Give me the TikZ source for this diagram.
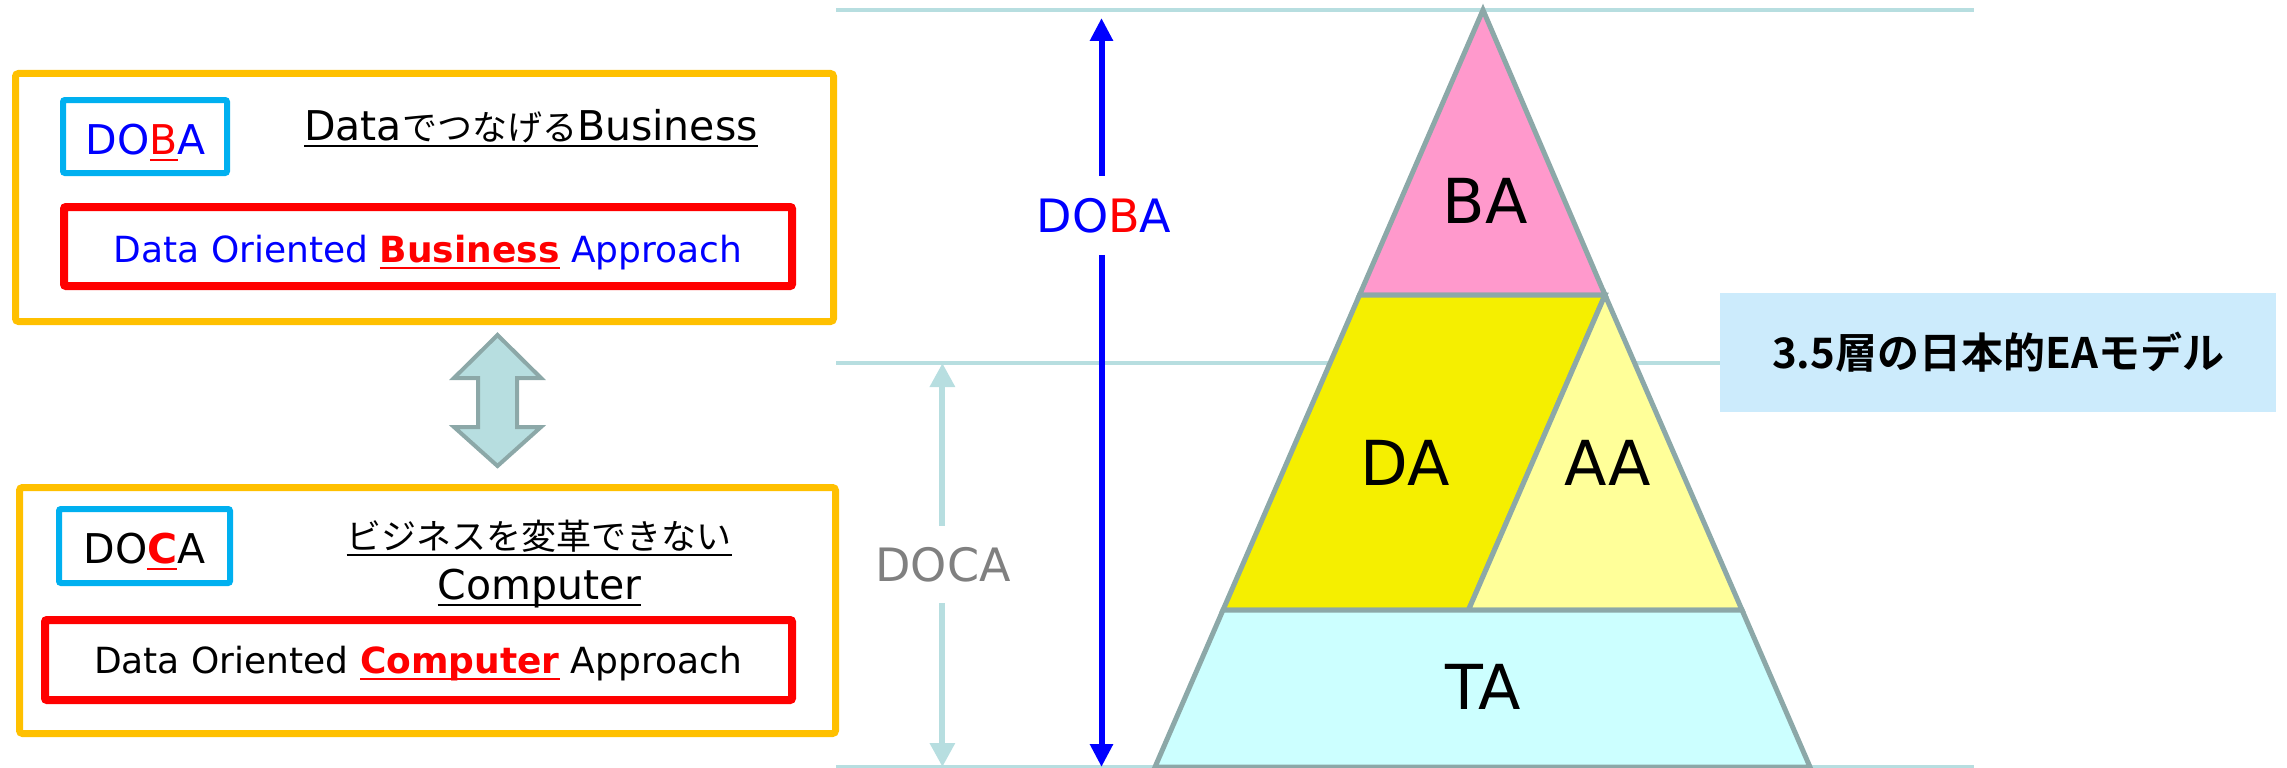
\documentclass[tikz,border=0pt]{standalone}
\usepackage{fontspec}
\setmainfont{DejaVu Sans}
\newfontfamily\jp{Noto Sans CJK JP}[BoldFont={Noto Sans CJK JP Bold}]
\usetikzlibrary{arrows.meta}

\definecolor{gold}{HTML}{FFC000}
\definecolor{skyframe}{HTML}{00B0F0}
\definecolor{guide}{HTML}{B7DEE0}
\definecolor{edge}{HTML}{8CA8A8}
\definecolor{bapink}{HTML}{FF99CC}
\definecolor{dayellow}{HTML}{F5EF00}
\definecolor{aayellow}{HTML}{FFFF99}
\definecolor{tacyan}{HTML}{CCFFFF}
\definecolor{labelbg}{HTML}{CCEBFC}
\definecolor{pureblue}{HTML}{0000FF}
\definecolor{purered}{HTML}{FF0000}
\definecolor{midgrey}{HTML}{808080}

% font size in pt (one pt is one pixel of the picture)
\newcommand\setpx[1]{\fontsize{#1}{#1}\selectfont}
% underline drawn in the current colour, a little below the baseline
\newsavebox\ulbox
\newcommand\ulbar[1]{\sbox\ulbox{#1}\rlap{\rule[-7pt]{\wd\ulbox}{2.5pt}}\usebox\ulbox}

\tikzset{
  txt/.style={inner sep=0pt, anchor=base},
  goldframe/.style={draw=gold, line width=7pt, rounded corners=3pt},
  cyanframe/.style={draw=skyframe, line width=6pt, rounded corners=2pt},
  redframe/.style={draw=purered, line width=8pt, rounded corners=2pt},
  guideline/.style={draw=guide, line width=4pt},
  dimblue/.style={draw=pureblue, line width=6pt, -{Triangle[length=23pt,width=22pt]}},
  dimteal/.style={draw=guide, line width=6pt, -{Triangle[length=24pt,width=24pt]}},
  layer/.style={draw=edge, line width=5pt},
  layerlabel/.style={txt, font=\setpx{62}},
}

\begin{document}
\begin{tikzpicture}[x=1pt, y=-1pt]
\useasboundingbox (0,0) rectangle (2287,768);

% ---------- upper card: DOBA ----------
\draw[goldframe] (15.5,73.5) rectangle (833.5,321.5);
\draw[cyanframe] (63,100) rectangle (227,173);
\node[txt, font=\setpx{41}] (dobaTag) at (146,154)
  {\color{pureblue}DO{\color{purered}\ulbar{B}}A};
\node[txt, font=\setpx{41}] (dobaJa) at (531,140)
  {\ulbar{Data{\jp\setpx{35}でつなげる}Business}};
\draw[redframe] (64,207) rectangle (792,286);
\node[txt, font=\setpx{36}] (dobaFull) at (428,262)
  {\color{pureblue}Data Oriented {\color{purered}\bfseries\ulbar{Business}} Approach};

% ---------- two-way arrow between the cards ----------
\draw[fill=guide, draw=edge, line width=4pt, line join=miter]
  (497.5,335) -- (541,378) -- (517,378) -- (517,427) -- (541,427)
  -- (497.5,466) -- (454,427) -- (478,427) -- (478,378) -- (454,378) -- cycle;

% ---------- lower card: DOCA ----------
\draw[goldframe] (19.5,487.5) rectangle (835.5,733.5);
\draw[cyanframe] (59,509) rectangle (230,583);
\node[txt, font=\setpx{41}] (docaTag) at (144.5,563)
  {DO{\color{purered}\bfseries\ulbar{C}}A};
\node[txt, font=\setpx{35}] (docaJa) at (539,549)
  {\ulbar{\jp ビジネスを変革できない}};
\node[txt, font=\setpx{41}] (docaJb) at (539.5,599) {\ulbar{Computer}};
\draw[redframe] (45,620) rectangle (792,700);
\node[txt, font=\setpx{36}] (docaFull) at (418,673)
  {Data Oriented {\color{purered}\bfseries\ulbar{Computer}} Approach};

% ---------- guide lines ----------
\coordinate (topL) at (836,10);   \coordinate (topR) at (1974,10);
\coordinate (midL) at (836,363);
\coordinate (botL) at (836,767);  \coordinate (botR) at (1974,767);
\node[fill=labelbg, minimum width=556pt, minimum height=119pt, inner sep=0pt,
      font=\jp\bfseries\setpx{42}] (eaBox) at (1998,352.5) {3.5層の日本的EAモデル};
\draw[guideline] (topL) -- (topR);
\draw[guideline] (midL) -- (midL -| eaBox.west);
\draw[guideline] (botL) -- (botR);

% ---------- DOBA span ----------
\coordinate (dobaTop) at (1101.5,18);
\coordinate (dobaBot) at (1101.5,767);
\node[txt, inner ysep=22pt, font=\setpx{46}] (dobaSpan) at (1104,232)
  {\color{pureblue}DO{\color{purered}B}A};
\draw[dimblue] (dobaSpan.north -| dobaTop) -- (dobaTop);
\draw[dimblue] (dobaSpan.south -| dobaBot) -- (dobaBot);

% ---------- DOCA span ----------
\coordinate (docaTop) at (942.4,363);
\coordinate (docaBot) at (942.4,767);
\node[txt, inner ysep=21pt, font=\setpx{46}, text=midgrey] (docaSpan) at (943,581) {DOCA};
\draw[dimteal] (docaSpan.north -| docaTop) -- (docaTop);
\draw[dimteal] (docaSpan.south -| docaBot) -- (docaBot);

% ---------- layered pyramid ----------
\coordinate (apex) at (1483,10);
\coordinate (bl1) at (1359.5,295); \coordinate (br1) at (1605,295);
\coordinate (bl2) at (1223,610);   \coordinate (br2) at (1742,610);
\coordinate (split) at (1468.5,610);
\coordinate (bl3) at (1155,767);   \coordinate (br3) at (1810,767);
\filldraw[layer, fill=bapink] (apex) -- (bl1) -- (br1) -- cycle;
\filldraw[layer, fill=dayellow] (bl1) -- (br1) -- (split) -- (bl2) -- cycle;
\filldraw[layer, fill=aayellow] (br1) -- (br2) -- (split) -- cycle;
\filldraw[layer, fill=tacyan] (bl2) -- (br2) -- (br3) -- (bl3) -- cycle;
\node[layerlabel] (baLbl) at (1485,223) {BA};
\node[layerlabel] (daLbl) at (1405,485) {DA};
\node[layerlabel] (aaLbl) at (1608,485) {AA};
\node[layerlabel] (taLbl) at (1483,709) {TA};
\end{tikzpicture}
\end{document}
